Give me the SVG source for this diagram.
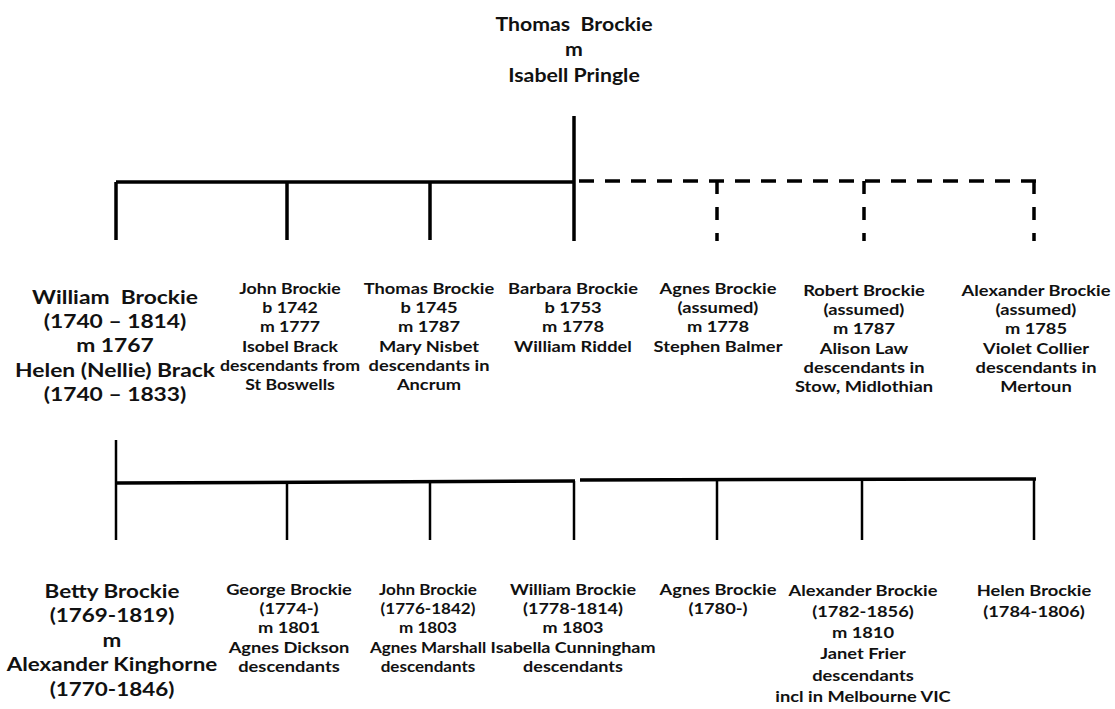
<svg xmlns="http://www.w3.org/2000/svg" width="1115" height="709" viewBox="0 0 1115 709">
  <style>
    text { font-family: Lato, "Open Sans", "Liberation Sans", sans-serif; font-weight: bold; fill: #111; text-anchor: middle; }
    .big { font-size: 19.5px; }
    .mid { font-size: 19px; }
    .sm { font-size: 15.5px; }
    .ln { stroke: #000; stroke-width: 3.5; fill: none; }
    .thin { stroke: #000; stroke-width: 2.5; fill: none; }
    .dash { stroke: #000; stroke-width: 3.5; fill: none; stroke-dasharray: 15 11; }
    .vdash { stroke: #000; stroke-width: 3.5; fill: none; stroke-dasharray: 13 13; }
  </style>

  <!-- connectors -->
  <g id="connectors">
    <!-- first generation: solid for known children, dashed for assumed -->
    <line class="ln" x1="574" y1="116" x2="574" y2="241"/>
    <line class="ln" x1="116" y1="182" x2="574" y2="182"/>
    <line class="ln" x1="116" y1="182" x2="116" y2="240"/>
    <line class="ln" x1="287" y1="182" x2="287" y2="240"/>
    <line class="ln" x1="430" y1="182" x2="430" y2="240"/>
    <line class="dash" x1="579" y1="181" x2="1036" y2="181"/>
    <line class="vdash" x1="717" y1="181" x2="717" y2="241"/>
    <line class="vdash" x1="864" y1="181" x2="864" y2="241"/>
    <line class="vdash" x1="1034" y1="181" x2="1034" y2="241"/>
    <!-- second generation -->
    <line class="thin" x1="116" y1="440" x2="116" y2="540"/>
    <line class="ln" x1="116" y1="483" x2="575" y2="481"/>
    <line class="ln" x1="580" y1="480" x2="1036" y2="479"/>
    <line class="thin" x1="287" y1="482" x2="287" y2="540"/>
    <line class="thin" x1="430" y1="482" x2="430" y2="540"/>
    <line class="thin" x1="574" y1="481" x2="574" y2="540"/>
    <line class="thin" x1="717" y1="480" x2="717" y2="540"/>
    <line class="thin" x1="862" y1="480" x2="862" y2="540"/>
    <line class="thin" x1="1034" y1="480" x2="1034" y2="540"/>
  </g>

  <g id="thomas-isabell" transform="translate(574 0) scale(1.12 1)">
    <text class="mid" x="0" y="31">Thomas&#160; Brockie</text>
    <text class="mid" x="0" y="56">m</text>
    <text class="mid" x="0" y="82">Isabell Pringle</text>
  </g>

  <g id="william-helen" transform="translate(115 0) scale(1.17 1)">
    <text class="big" x="0" y="304">William&#160; Brockie</text>
    <text class="big" x="0" y="328">(1740 – 1814)</text>
    <text class="big" x="0" y="352">m 1767</text>
    <text class="big" x="0" y="377">Helen (Nellie) Brack</text>
    <text class="big" x="0" y="401">(1740 – 1833)</text>
  </g>

  <g id="john-1742" transform="translate(290 0) scale(1.14 1)">
    <text class="sm" x="0" y="294">John Brockie</text>
    <text class="sm" x="0" y="313">b 1742</text>
    <text class="sm" x="0" y="332">m 1777</text>
    <text class="sm" x="0" y="352">Isobel Brack</text>
    <text class="sm" x="0" y="371">descendants from</text>
    <text class="sm" x="0" y="390">St Boswells</text>
  </g>

  <g id="thomas-1745" transform="translate(429 0) scale(1.18 1)">
    <text class="sm" x="0" y="294">Thomas Brockie</text>
    <text class="sm" x="0" y="313">b 1745</text>
    <text class="sm" x="0" y="332">m 1787</text>
    <text class="sm" x="0" y="352">Mary Nisbet</text>
    <text class="sm" x="0" y="371">descendants in</text>
    <text class="sm" x="0" y="390">Ancrum</text>
  </g>

  <g id="barbara-1753" transform="translate(573 0) scale(1.18 1)">
    <text class="sm" x="0" y="294">Barbara Brockie</text>
    <text class="sm" x="0" y="313">b 1753</text>
    <text class="sm" x="0" y="332">m 1778</text>
    <text class="sm" x="0" y="352">William Riddel</text>
  </g>

  <g id="agnes-assumed" transform="translate(718 0) scale(1.18 1)">
    <text class="sm" x="0" y="294">Agnes Brockie</text>
    <text class="sm" x="0" y="313">(assumed)</text>
    <text class="sm" x="0" y="332">m 1778</text>
    <text class="sm" x="0" y="352">Stephen Balmer</text>
  </g>

  <g id="robert-assumed" transform="translate(864 0) scale(1.18 1)">
    <text class="sm" x="0" y="296">Robert Brockie</text>
    <text class="sm" x="0" y="315">(assumed)</text>
    <text class="sm" x="0" y="334">m 1787</text>
    <text class="sm" x="0" y="354">Alison Law</text>
    <text class="sm" x="0" y="373">descendants in</text>
    <text class="sm" x="0" y="392">Stow, Midlothian</text>
  </g>

  <g id="alexander-assumed" transform="translate(1036 0) scale(1.18 1)">
    <text class="sm" x="0" y="296">Alexander Brockie</text>
    <text class="sm" x="0" y="315">(assumed)</text>
    <text class="sm" x="0" y="334">m 1785</text>
    <text class="sm" x="0" y="354">Violet Collier</text>
    <text class="sm" x="0" y="373">descendants in</text>
    <text class="sm" x="0" y="392">Mertoun</text>
  </g>

  <g id="betty-alexander" transform="translate(112 0) scale(1.15 1)">
    <text class="big" x="0" y="598">Betty Brockie</text>
    <text class="big" x="0" y="622">(1769-1819)</text>
    <text class="big" x="0" y="647">m</text>
    <text class="big" x="0" y="671">Alexander Kinghorne</text>
    <text class="big" x="0" y="696">(1770-1846)</text>
  </g>

  <g id="george-1774" transform="translate(289 0) scale(1.18 1)">
    <text class="sm" x="0" y="595">George Brockie</text>
    <text class="sm" x="0" y="614">(1774-)</text>
    <text class="sm" x="0" y="633">m 1801</text>
    <text class="sm" x="0" y="653">Agnes Dickson</text>
    <text class="sm" x="0" y="672">descendants</text>
  </g>

  <g id="john-1776" transform="translate(428 0) scale(1.1 1)">
    <text class="sm" x="0" y="595">John Brockie</text>
    <text class="sm" x="0" y="614">(1776-1842)</text>
    <text class="sm" x="0" y="633">m 1803</text>
    <text class="sm" x="0" y="653">Agnes Marshall</text>
    <text class="sm" x="0" y="672">descendants</text>
  </g>

  <g id="william-1778" transform="translate(573 0) scale(1.16 1)">
    <text class="sm" x="0" y="595">William Brockie</text>
    <text class="sm" x="0" y="614">(1778-1814)</text>
    <text class="sm" x="0" y="633">m 1803</text>
    <text class="sm" x="0" y="653">Isabella Cunningham</text>
    <text class="sm" x="0" y="672">descendants</text>
  </g>

  <g id="agnes-1780" transform="translate(718 0) scale(1.18 1)">
    <text class="sm" x="0" y="595">Agnes Brockie</text>
    <text class="sm" x="0" y="614">(1780-)</text>
  </g>

  <g id="alexander-1782" transform="translate(863 0) scale(1.18 1)">
    <text class="sm" x="0" y="596">Alexander Brockie</text>
    <text class="sm" x="0" y="617">(1782-1856)</text>
    <text class="sm" x="0" y="638">m 1810</text>
    <text class="sm" x="0" y="659">Janet Frier</text>
    <text class="sm" x="0" y="681">descendants</text>
    <text class="sm" x="0" y="702">incl in Melbourne VIC</text>
  </g>

  <g id="helen-1784" transform="translate(1034 0) scale(1.18 1)">
    <text class="sm" x="0" y="596">Helen Brockie</text>
    <text class="sm" x="0" y="617">(1784-1806)</text>
  </g>
</svg>
